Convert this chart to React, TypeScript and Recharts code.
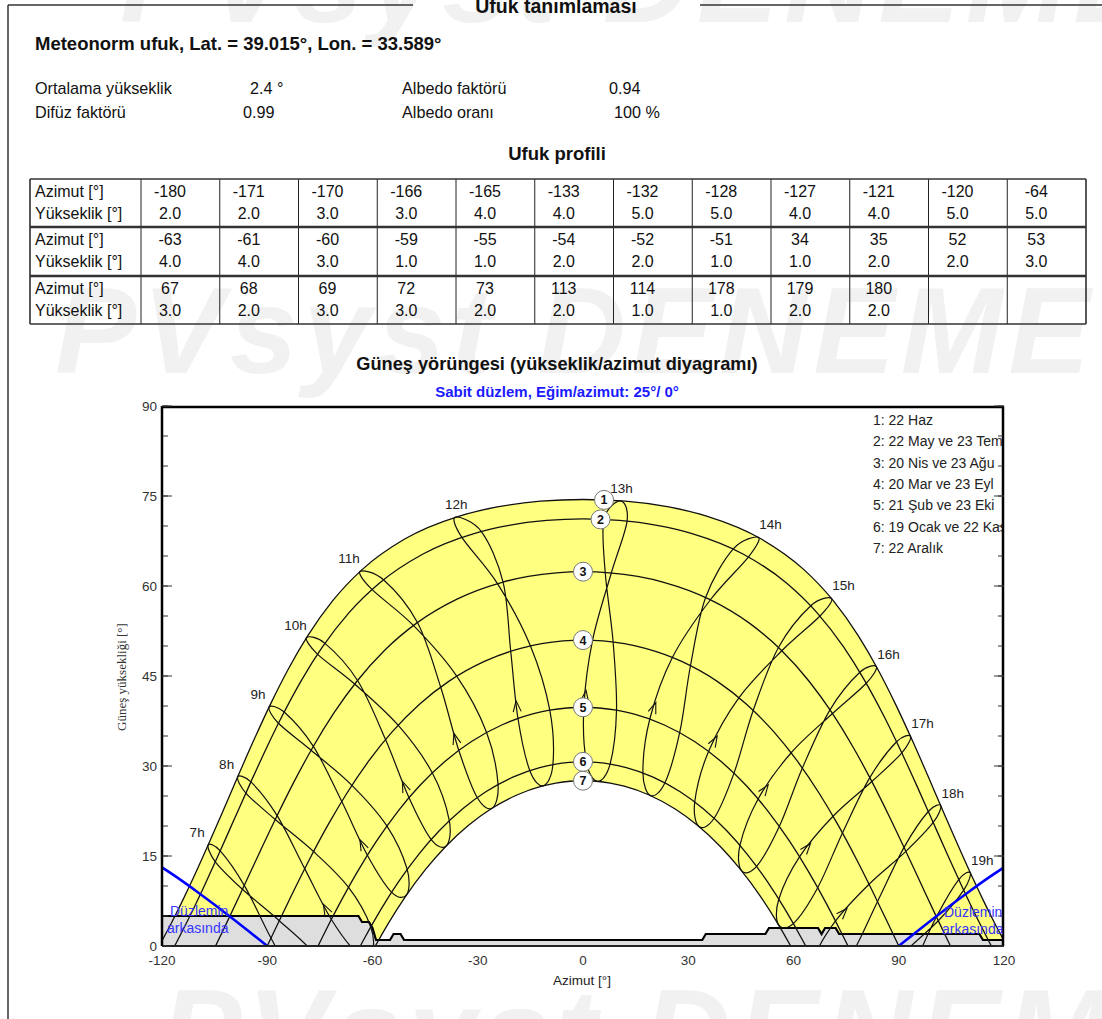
import React from 'react';
import { Area, ComposedChart, Line, Scatter, XAxis, YAxis } from 'recharts';

// --- axis ticks ---
const AZ_LABEL_TICKS = [-120, -90, -60, -30, 0, 30, 60, 90, 120];
const AZ_MINOR_TICKS = [-120, -110, -100, -90, -80, -70, -60, -50, -40, -30, -20, -10, 0, 10, 20, 30, 40, 50, 60, 70, 80, 90, 100, 110, 120];
const EL_LABEL_TICKS = [0, 15, 30, 45, 60, 75, 90];
const EL_MINOR_TICKS = [0, 5, 10, 15, 20, 25, 30, 35, 40, 45, 50, 55, 60, 65, 70, 75, 80, 85, 90];

// --- horizon profile (table + grey area) ---
const horizonAz = [-180, -171, -170, -166, -165, -133, -132, -128, -127, -121, -120, -64, -63, -61, -60, -59, -55, -54, -52, -51, 34, 35, 52, 53, 67, 68, 69, 72, 73, 113, 114, 178, 179, 180];
const horizonEl = [2, 2, 3, 3, 4, 4, 5, 5, 4, 4, 5, 5, 4, 4, 3, 1, 1, 2, 2, 1, 1, 2, 2, 3, 3, 2, 3, 3, 2, 2, 1, 1, 2, 2];

// --- sun paths for the 7 dates (azimuth / elevation, degrees) ---
const path1Az = [-120.8, -117.36, -114.38, -110.66, -106.6, -102.22, -98.18, -93.63, -89.21, -83.95, -78.44, -71.28, -62.97, -50.83, -35.22, -24.43, -12.13, 0, 12.13, 24.43, 35.22, 50.83, 62.97, 71.28, 78.44, 83.95, 89.21, 93.63, 98.18, 102.22, 106.6, 110.66, 114.38, 117.36, 120.8];
const path1El = [0, 3.78, 7.27, 11.87, 17.16, 23.04, 28.53, 34.57, 40.15, 46.21, 51.72, 57.59, 62.73, 67.83, 71.66, 73.17, 74.13, 74.42, 74.13, 73.17, 71.66, 67.83, 62.73, 57.59, 51.72, 46.21, 40.15, 34.57, 28.53, 23.04, 17.16, 11.87, 7.27, 3.78, 0];
const path2Az = [-116.39, -111.86, -108.05, -103.87, -99.35, -95.14, -90.38, -85.72, -80.13, -74.27, -66.68, -57.99, -45.73, -30.85, -21.1, -10.36, 0, 10.36, 21.1, 30.85, 45.73, 57.99, 66.68, 74.27, 80.13, 85.72, 90.38, 95.14, 99.35, 103.87, 108.05, 111.86, 116.39];
const path2El = [0, 5.21, 9.89, 15.25, 21.2, 26.73, 32.8, 38.37, 44.4, 49.84, 55.57, 60.51, 65.3, 68.78, 70.11, 70.93, 71.19, 70.93, 70.11, 68.78, 65.3, 60.51, 55.57, 49.84, 44.4, 38.37, 32.8, 26.73, 21.2, 15.25, 9.89, 5.21, 0];
const path3Az = [-104.74, -101.12, -96.7, -91.88, -87.34, -82.16, -77.05, -70.9, -64.5, -56.39, -47.53, -35.92, -23.25, -15.6, -7.56, 0, 7.56, 15.6, 23.25, 35.92, 47.53, 56.39, 64.5, 70.9, 77.05, 82.16, 87.34, 91.88, 96.7, 101.12, 104.74];
const path3El = [0, 4.4, 9.91, 15.97, 21.55, 27.6, 33.08, 38.92, 44.08, 49.37, 53.77, 57.82, 60.58, 61.59, 62.2, 62.39, 62.2, 61.59, 60.58, 57.82, 53.77, 49.37, 44.08, 38.92, 33.08, 27.6, 21.55, 15.97, 9.91, 4.4, 0];
const path4Az = [-90, -87.74, -82.76, -78.05, -72.64, -67.31, -60.96, -54.48, -46.53, -38.27, -28.11, -17.77, -11.81, -5.69, 0, 5.69, 11.81, 17.77, 28.11, 38.27, 46.53, 54.48, 60.96, 67.31, 72.64, 78.05, 82.76, 87.74, 90];
const path4El = [0, 2.79, 8.84, 14.34, 20.22, 25.46, 30.92, 35.64, 40.33, 44.1, 47.43, 49.61, 50.39, 50.85, 50.99, 50.85, 50.39, 49.61, 47.43, 44.1, 40.33, 35.64, 30.92, 25.46, 20.22, 14.34, 8.84, 2.79, 0];
const path5Az = [-75.52, -74.15, -69.49, -64.15, -58.92, -52.76, -46.58, -39.2, -31.79, -23.02, -14.39, -9.52, -4.58, 0, 4.58, 9.52, 14.39, 23.02, 31.79, 39.2, 46.58, 52.76, 58.92, 64.15, 69.49, 74.15, 75.52];
const path5El = [0, 1.63, 6.93, 12.52, 17.42, 22.45, 26.7, 30.84, 34.08, 36.88, 38.67, 39.3, 39.67, 39.79, 39.67, 39.3, 38.67, 36.88, 34.08, 30.84, 26.7, 22.45, 17.42, 12.52, 6.93, 1.63, 0];
const path6Az = [-63.48, -62.75, -57.64, -52.65, -46.83, -41.05, -34.28, -27.59, -19.83, -12.34, -8.15, -3.91, 0, 3.91, 8.15, 12.34, 19.83, 27.59, 34.28, 41.05, 46.83, 52.65, 57.64, 62.75, 63.48];
const path6El = [0, 0.8, 6.07, 10.65, 15.28, 19.16, 22.87, 25.74, 28.18, 29.73, 30.27, 30.59, 30.69, 30.59, 30.27, 29.73, 28.18, 25.74, 22.87, 19.16, 15.28, 10.65, 6.07, 0.8, 0];
const path7Az = [-60.44, -59.2, -55.44, -50.57, -44.88, -39.27, -32.71, -26.28, -18.85, -11.72, -7.74, -3.71, 0, 3.71, 7.74, 11.72, 18.85, 26.28, 32.71, 39.27, 44.88, 50.57, 55.44, 59.2, 60.44];
const path7El = [-1.33, 0, 3.82, 8.28, 12.77, 16.51, 20.08, 22.83, 25.17, 26.64, 27.15, 27.46, 27.55, 27.46, 27.15, 26.64, 25.17, 22.83, 20.08, 16.51, 12.77, 8.28, 3.82, 0, -1.33];

const pathsAz = [path1Az, path2Az, path3Az, path4Az, path5Az, path6Az, path7Az];
const pathsEl = [path1El, path2El, path3El, path4El, path5El, path6El, path7El];

// circled date numbers sitting on each path
const dateNumbers = [1, 2, 3, 4, 5, 6, 7];
const dateNumberAz = [6, 5, 0, 0, 0, 0, 0];
const dateNumberEl = [74.35, 71.1, 62.39, 50.99, 39.79, 30.69, 27.55];
const legendLines = ['1: 22 Haz', '2: 22 May ve 23 Tem', '3: 20 Nis ve 23 Ağu', '4: 20 Mar ve 23 Eyl', '5: 21 Şub ve 23 Eki', '6: 19 Ocak ve 22 Kas', '7: 22 Aralık'];

// --- hour analemmas, points in date order:
// Jun22 Jul23 Aug23 Sep23 Oct23 Nov22 Dec22 Jan19 Feb21 Mar20 Apr20 May22
const hours = [7, 8, 9, 10, 11, 12, 13, 14, 15, 16, 17, 18, 19];
const loopAz = [
  [-106.85, -104.8, -97.07, -86.57, -76.59, -69.81, -69.11, -73.46, -81.15, -88.94, -96.55, -103.41],
  [-98.44, -96.1, -87.73, -76.8, -66.86, -60.52, -60.19, -64.47, -71.76, -79.33, -87.18, -94.66],
  [-89.5, -86.81, -77.5, -65.87, -55.92, -50.13, -50.29, -54.6, -61.5, -68.79, -76.86, -85.17],
  [-78.82, -75.71, -65.08, -52.7, -43.01, -38.12, -38.95, -43.31, -49.65, -56.31, -64.26, -73.55],
  [-63.58, -60.23, -48.35, -36.0, -27.53, -24.22, -25.91, -30.19, -35.46, -40.6, -47.19, -56.87],
  [-36.38, -34.62, -24.38, -15.0, -9.47, -8.58, -11.32, -15.2, -18.57, -20.61, -22.78, -28.96],
  [10.71, 5.96, 6.33, 8.58, 9.55, 7.72, 4.12, 0.97, 0.24, 2.72, 8.07, 12.56],
  [50.0, 42.84, 34.95, 30.64, 27.6, 23.39, 19.24, 17.08, 19.08, 25.51, 36.32, 47.18],
  [70.82, 64.94, 55.71, 48.53, 43.09, 37.42, 33.06, 31.86, 35.85, 44.48, 56.67, 67.55],
  [83.63, 78.91, 70.4, 62.54, 56.01, 49.54, 45.18, 44.74, 49.96, 59.34, 71.11, 80.74],
  [93.36, 89.38, 81.75, 73.96, 66.93, 60.0, 55.7, 55.82, 61.75, 71.28, 82.33, 90.88],
  [101.97, 98.42, 91.51, 83.96, 76.67, 69.34, 65.03, 65.57, 71.98, 81.53, 92.04, 99.82],
  [110.4, 107.11, 100.75, 93.43, 85.89, 78.07, 73.64, 74.45, 81.37, 91.06, 101.27, 108.52],
];
const loopEl = [
  [16.82, 14.04, 9.45, 4.22, -1.26, -7.37, -11.58, -11.94, -6.86, 1.32, 10.1, 15.85],
  [28.18, 25.49, 21.08, 15.74, 9.8, 3.21, -1.06, -1.06, 4.46, 12.9, 21.74, 27.35],
  [39.8, 37.13, 32.63, 26.78, 20.03, 12.8, 8.52, 8.99, 15.17, 24.11, 33.27, 38.99],
  [51.38, 48.65, 43.66, 36.8, 28.91, 20.93, 16.7, 17.79, 24.8, 34.45, 44.25, 50.44],
  [62.42, 59.47, 53.43, 44.98, 35.67, 26.98, 22.97, 24.78, 32.71, 43.2, 53.91, 61.03],
  [71.47, 68.18, 60.4, 50.03, 39.3, 30.24, 26.7, 29.3, 38.04, 49.18, 60.65, 69.08],
  [74.2, 71.12, 62.26, 50.7, 39.3, 30.31, 27.44, 30.68, 39.79, 50.95, 62.17, 70.82],
  [68.1, 66.18, 58.09, 46.75, 35.67, 27.25, 25.07, 28.9, 37.92, 48.13, 57.71, 64.86],
  [57.92, 56.71, 49.76, 39.29, 28.9, 21.33, 19.91, 24.06, 32.51, 41.4, 49.21, 55.0],
  [46.56, 45.62, 39.36, 29.66, 20.0, 13.3, 12.55, 16.81, 24.55, 32.21, 38.74, 43.79],
  [34.92, 34.04, 28.06, 18.85, 9.76, 3.77, 3.56, 7.84, 14.9, 21.63, 27.41, 32.18],
  [23.38, 22.42, 16.44, 7.42, -1.32, -6.77, -6.56, -2.32, 4.17, 10.3, 15.78, 20.59],
  [12.2, 11.07, 4.86, -4.23, -12.84, -17.95, -17.46, -13.32, -7.17, -1.32, 4.21, 9.3],
];
const FEB = 8;
const MAR = 9;

// --- "behind the plane" limit for the 25° tilted plane ---
const planeLeftAz = [-120, -115, -110, -105, -100, -95, -90];
const planeLeftEl = [13.1, 11.15, 9.06, 6.88, 4.63, 2.33, 0];
const planeRightAz = [90, 95, 100, 105, 110, 115, 120];
const planeRightEl = [0, 2.33, 4.63, 6.88, 9.06, 11.15, 13.1];

const FONT = '"Liberation Sans", Arial, Helvetica, sans-serif';
const PX_AZ = 842 / 240;
const PX_EL = 540 / 90;

const pts = (az: number[], el: number[]) => az.map((a, i) => ({ az: a, el: el[i] }));

// closed Catmull-Rom curve for the analemma loops
const closedCurve = (context: any) => {
  let p: number[][] = [];
  return {
    areaStart() {},
    areaEnd() {},
    lineStart() {
      p = [];
    },
    point(x: number, y: number) {
      p.push([x, y]);
    },
    lineEnd() {
      const n = p.length;
      if (!n) return;
      context.moveTo(p[0][0], p[0][1]);
      for (let i = 0; i < n; i++) {
        const p0 = p[(i - 1 + n) % n];
        const p1 = p[i];
        const p2 = p[(i + 1) % n];
        const p3 = p[(i + 2) % n];
        context.bezierCurveTo(
          p1[0] + (p2[0] - p0[0]) / 6,
          p1[1] + (p2[1] - p0[1]) / 6,
          p2[0] - (p3[0] - p1[0]) / 6,
          p2[1] - (p3[1] - p1[1]) / 6,
          p2[0],
          p2[1],
        );
      }
      context.closePath();
    },
  };
};

const emptyTick = () => <g />;

const HourLabel = (props: any) => {
  const { cx, cy, payload } = props;
  const h = payload.hour;
  const dx = h < 12 ? -11 : h > 13 ? 12 : 1;
  return (
    <text x={cx + dx} y={cy - 8} textAnchor="middle" fontSize={13.5} fill="#222" fontFamily={FONT}>
      {h}h
    </text>
  );
};

const DateBadge = (props: any) => {
  const { cx, cy, payload } = props;
  return (
    <g>
      <circle cx={cx} cy={cy} r={9.5} fill="#fff" stroke="#777" strokeWidth={1} />
      <text x={cx} y={cy + 4.5} textAnchor="middle" fontSize={12.5} fontWeight="bold" fill="#111" fontFamily={FONT}>
        {payload.n}
      </text>
    </g>
  );
};

const Chevron = (props: any) => {
  const { cx, cy, payload } = props;
  const vx = payload.daz * PX_AZ;
  const vy = -payload.del * PX_EL;
  const len = Math.hypot(vx, vy) || 1;
  const ux = vx / len;
  const uy = vy / len;
  const nx = -uy;
  const ny = ux;
  const tx = cx + ux * 17;
  const ty = cy + uy * 17;
  const bx = tx - ux * 11;
  const by = ty - uy * 11;
  return (
    <path
      d={`M${bx + nx * 4},${by + ny * 4} L${tx},${ty} L${bx - nx * 4},${by - ny * 4}`}
      fill="none"
      stroke="#111"
      strokeWidth={1.1}
    />
  );
};

function SunChart() {
  const hourLabels = hours.map((h, i) => ({ hour: h, az: loopAz[i][0], el: loopEl[i][0] }));
  const badges = dateNumbers.map((n, i) => ({ n, az: dateNumberAz[i], el: dateNumberEl[i] }));
  const arrows = hours
    .map((h, i) => ({
      hour: h,
      az: loopAz[i][FEB],
      el: loopEl[i][FEB],
      daz: loopAz[i][MAR] - loopAz[i][FEB],
      del: loopEl[i][MAR] - loopEl[i][FEB],
    }))
    .filter((d) => d.el > 0);

  const tickStyle = { fontSize: 13.5, fill: '#333', fontFamily: FONT };
  const tickLine = { stroke: '#333', strokeWidth: 1 };

  return (
    <ComposedChart width={1102} height={1019} margin={{ top: 406, right: 98, bottom: 43, left: 112 }}>
      <XAxis
        xAxisId="main"
        dataKey="az"
        type="number"
        domain={[-120, 120]}
        allowDataOverflow
        ticks={AZ_LABEL_TICKS}
        interval={0}
        tickLine={false}
        tickSize={0}
        tickMargin={9}
        tick={tickStyle}
        axisLine={{ stroke: '#222', strokeWidth: 2.2 }}
        height={30}
      />
      <XAxis
        xAxisId="topMinor"
        orientation="top"
        mirror
        type="number"
        domain={[-120, 120]}
        allowDataOverflow
        ticks={AZ_MINOR_TICKS}
        interval={0}
        tick={emptyTick}
        tickSize={5}
        tickLine={tickLine}
        axisLine={{ stroke: '#000', strokeWidth: 2.5 }}
        height={1}
      />
      <XAxis
        xAxisId="topMajor"
        orientation="top"
        mirror
        type="number"
        domain={[-120, 120]}
        allowDataOverflow
        ticks={AZ_LABEL_TICKS}
        interval={0}
        tick={emptyTick}
        tickSize={10}
        tickLine={tickLine}
        axisLine={false}
        height={1}
      />
      <YAxis
        yAxisId="main"
        dataKey="el"
        type="number"
        domain={[0, 90]}
        allowDataOverflow
        ticks={EL_LABEL_TICKS}
        interval={0}
        tickLine={false}
        tickSize={0}
        tickMargin={5}
        tick={tickStyle}
        axisLine={{ stroke: '#000', strokeWidth: 2.5 }}
        width={50}
      />
      <YAxis
        yAxisId="leftMinor"
        mirror
        type="number"
        domain={[0, 90]}
        allowDataOverflow
        ticks={EL_MINOR_TICKS}
        interval={0}
        tick={emptyTick}
        tickSize={5}
        tickLine={tickLine}
        axisLine={false}
        width={1}
      />
      <YAxis
        yAxisId="leftMajor"
        mirror
        type="number"
        domain={[0, 90]}
        allowDataOverflow
        ticks={EL_LABEL_TICKS}
        interval={0}
        tick={emptyTick}
        tickSize={10}
        tickLine={tickLine}
        axisLine={false}
        width={1}
      />
      <YAxis
        yAxisId="rightMinor"
        orientation="right"
        mirror
        type="number"
        domain={[0, 90]}
        allowDataOverflow
        ticks={EL_MINOR_TICKS}
        interval={0}
        tick={emptyTick}
        tickSize={5}
        tickLine={tickLine}
        axisLine={{ stroke: '#000', strokeWidth: 2.5 }}
        width={1}
      />
      <YAxis
        yAxisId="rightMajor"
        orientation="right"
        mirror
        type="number"
        domain={[0, 90]}
        allowDataOverflow
        ticks={EL_LABEL_TICKS}
        interval={0}
        tick={emptyTick}
        tickSize={10}
        tickLine={tickLine}
        axisLine={false}
        width={1}
      />

      {/* yellow band between the 22 Jun and 22 Dec paths */}
      <Area
        xAxisId="main"
        yAxisId="main"
        data={pts(path1Az, path1El)}
        dataKey="el"
        type="monotone"
        fill="#ffff80"
        fillOpacity={1}
        stroke="none"
        isAnimationActive={false}
      />
      <Area
        xAxisId="main"
        yAxisId="main"
        data={pts(path7Az, path7El)}
        dataKey="el"
        type="monotone"
        fill="#ffffff"
        fillOpacity={1}
        stroke="none"
        isAnimationActive={false}
      />
      {/* far horizon */}
      <Area
        xAxisId="main"
        yAxisId="main"
        data={pts(horizonAz, horizonEl)}
        dataKey="el"
        type="linear"
        fill="#dedede"
        fillOpacity={1}
        stroke="#000"
        strokeWidth={2.2}
        isAnimationActive={false}
      />

      {pathsAz.map((az, i) => (
        <Line
          key={`path${i}`}
          xAxisId="main"
          yAxisId="main"
          data={pts(az, pathsEl[i])}
          dataKey="el"
          type="monotone"
          stroke="#111"
          strokeWidth={1.3}
          dot={false}
          activeDot={false}
          isAnimationActive={false}
        />
      ))}
      {hours.map((h, i) => (
        <Line
          key={`loop${h}`}
          xAxisId="main"
          yAxisId="main"
          data={pts(loopAz[i], loopEl[i])}
          dataKey="el"
          type={closedCurve as any}
          stroke="#111"
          strokeWidth={1.2}
          fill="none"
          dot={false}
          activeDot={false}
          isAnimationActive={false}
        />
      ))}
      <Line
        xAxisId="main"
        yAxisId="main"
        data={pts(planeLeftAz, planeLeftEl)}
        dataKey="el"
        type="monotone"
        stroke="#0000ff"
        strokeWidth={2.5}
        dot={false}
        activeDot={false}
        isAnimationActive={false}
      />
      <Line
        xAxisId="main"
        yAxisId="main"
        data={pts(planeRightAz, planeRightEl)}
        dataKey="el"
        type="monotone"
        stroke="#0000ff"
        strokeWidth={2.5}
        dot={false}
        activeDot={false}
        isAnimationActive={false}
      />
      <Scatter xAxisId="main" yAxisId="main" data={arrows} dataKey="el" shape={Chevron} isAnimationActive={false} />
      <Scatter xAxisId="main" yAxisId="main" data={hourLabels} dataKey="el" shape={HourLabel} isAnimationActive={false} />
      <Scatter xAxisId="main" yAxisId="main" data={badges} dataKey="el" shape={DateBadge} isAnimationActive={false} />
    </ComposedChart>
  );
}

function PageFrame() {
  const colX = (i: number) => 141 + i * 78.75;
  const groups = [
    [0, 12],
    [12, 24],
    [24, 34],
  ];
  const groupTop = [179, 227, 276];
  const tableBottom = 324;
  return (
    <svg width={1102} height={1019} style={{ position: 'absolute', left: 0, top: 0 }} fontFamily={FONT}>
      {/* section frame */}
      <line x1={8} y1={5} x2={413} y2={5} stroke="#333" strokeWidth={1.5} />
      <line x1={700} y1={5} x2={1102} y2={5} stroke="#333" strokeWidth={1.5} />
      <line x1={8} y1={5} x2={8} y2={1019} stroke="#333" strokeWidth={1.5} />
      <text x={556} y={13} textAnchor="middle" fontSize={19.5} fontWeight="bold" fill="#111">
        Ufuk tanımlaması
      </text>

      <text x={35} y={49.5} fontSize={18.5} fontWeight="bold" fill="#111">
        Meteonorm ufuk, Lat. = 39.015°, Lon. = 33.589°
      </text>
      <g fontSize={16.2} fill="#111">
        <text x={35} y={94}>Ortalama yükseklik</text>
        <text x={250} y={94}>2.4 °</text>
        <text x={402} y={94}>Albedo faktörü</text>
        <text x={609} y={94}>0.94</text>
        <text x={35} y={118}>Difüz faktörü</text>
        <text x={243} y={118}>0.99</text>
        <text x={402} y={118}>Albedo oranı</text>
        <text x={614} y={118}>100 %</text>
      </g>

      <text x={557} y={159.5} textAnchor="middle" fontSize={18.5} fontWeight="bold" fill="#111">
        Ufuk profili
      </text>

      {/* horizon table */}
      {groups.map(([a, b], g) => (
        <g key={g} fontSize={16} fill="#111">
          <text x={35} y={groupTop[g] + 17.5}>Azimut [°]</text>
          <text x={35} y={groupTop[g] + 39.5}>Yükseklik [°]</text>
          {horizonAz.slice(a, b).map((v, j) => (
            <text key={`a${j}`} x={colX(j) + 29} y={groupTop[g] + 17.5} textAnchor="middle">
              {v}
            </text>
          ))}
          {horizonEl.slice(a, b).map((v, j) => (
            <text key={`e${j}`} x={colX(j) + 29} y={groupTop[g] + 39.5} textAnchor="middle">
              {v.toFixed(1)}
            </text>
          ))}
        </g>
      ))}
      {[30, ...Array.from({ length: 13 }, (_, i) => colX(i))].map((x, i) => (
        <line key={`v${i}`} x1={x} y1={179} x2={x} y2={tableBottom} stroke="#222" strokeWidth={i === 0 || i === 13 ? 1.5 : 1} />
      ))}
      {[...groupTop, tableBottom].map((y, i) => (
        <line key={`h${i}`} x1={30} y1={y} x2={1086} y2={y} stroke="#333" strokeWidth={i === 0 || i === 3 ? 1.6 : 2.4} />
      ))}

      <text x={557} y={369.5} textAnchor="middle" fontSize={18.2} fontWeight="bold" fill="#111">
        Güneş yörüngesi (yükseklik/azimut diyagramı)
      </text>
      <text x={557} y={397} textAnchor="middle" fontSize={15} fontWeight="bold" fill="#1a1aff">
        Sabit düzlem, Eğim/azimut: 25°/ 0°
      </text>

      <text
        x={0}
        y={0}
        transform="translate(126,677) rotate(-90)"
        textAnchor="middle"
        fontSize={13}
        fontFamily='"Liberation Serif", "Times New Roman", serif'
        fill="#333"
      >
        Güneş yüksekliği [°]
      </text>
      <text x={582} y={985} textAnchor="middle" fontSize={13.5} fill="#222">
        Azimut [°]
      </text>
    </svg>
  );
}

function Watermark() {
  const style: React.CSSProperties = {
    position: 'absolute',
    fontFamily: FONT,
    fontSize: 122,
    fontWeight: 'bold',
    fontStyle: 'italic',
    color: '#f1f1f1',
    whiteSpace: 'nowrap',
    letterSpacing: 6,
    lineHeight: '130px',
  };
  return (
    <>
      <div style={{ ...style, left: 120, top: -85 }}>PVsyst DENEME</div>
      <div style={{ ...style, left: 55, top: 266 }}>PVsyst DENEME</div>
      <div style={{ ...style, left: 160, top: 968 }}>PVsyst DENEME</div>
    </>
  );
}

export default function App() {
  const blue: React.CSSProperties = {
    position: 'absolute',
    fontFamily: FONT,
    fontSize: 14,
    color: '#3535ff',
    whiteSpace: 'nowrap',
    lineHeight: '17px',
  };
  return (
    <div style={{ position: 'absolute', left: 0, top: 0, width: 1102, height: 1019, overflow: 'hidden', background: '#fff' }}>
      <Watermark />
      <PageFrame />
      <div style={{ position: 'absolute', left: 0, top: 0 }}>
        <SunChart />
      </div>
      {/* date legend in the plot's upper right corner */}
      <div
        style={{
          position: 'absolute',
          left: 870,
          top: 411,
          width: 132,
          height: 150,
          overflow: 'hidden',
          fontFamily: FONT,
          fontSize: 14,
          color: '#222',
        }}
      >
        {legendLines.map((t, i) => (
          <div key={i} style={{ position: 'absolute', left: 3, top: i * 21.3, whiteSpace: 'nowrap', lineHeight: '18px' }}>
            {t}
          </div>
        ))}
      </div>
      <div style={{ ...blue, left: 170, top: 903 }}>Düzlemin</div>
      <div style={{ ...blue, left: 167, top: 920 }}>arkasında</div>
      <div style={{ position: 'absolute', left: 930, top: 900, width: 73, height: 42, overflow: 'hidden' }}>
        <div style={{ ...blue, left: 14, top: 4 }}>Düzlemin</div>
        <div style={{ ...blue, left: 12, top: 21 }}>arkasında</div>
      </div>
    </div>
  );
}
